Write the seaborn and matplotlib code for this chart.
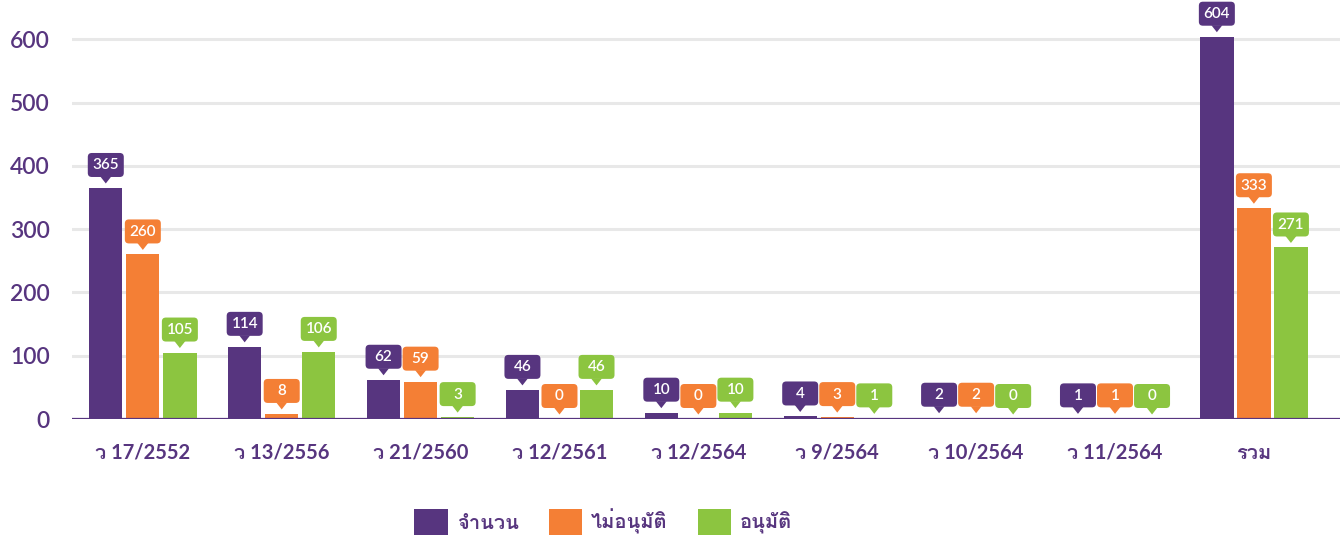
import pandas as pd
import seaborn as sns
import matplotlib.pyplot as plt
from matplotlib import font_manager
from matplotlib.ft2font import FT2Font
from matplotlib.patches import FancyBboxPatch, Polygon
from matplotlib.transforms import ScaledTranslation

categories = ['ว 17/2552', 'ว 13/2556', 'ว 21/2560', 'ว 12/2561', 'ว 12/2564',
              'ว 9/2564', 'ว 10/2564', 'ว 11/2564', 'รวม']
series = ['จำนวน', 'ไม่อนุมัติ', 'อนุมัติ']
total = [365, 114, 62, 46, 10, 4, 2, 1, 604]
rejected = [260, 8, 59, 0, 0, 3, 2, 1, 333]
approved = [105, 106, 3, 46, 10, 1, 0, 0, 271]
colors = ['#57357f', '#f47f35', '#8cc540']
yticks = [0, 100, 200, 300, 400, 500, 600]

# find an installed font that has Thai glyphs
thai = []
for f in font_manager.fontManager.ttflist:
    try:
        if 0x0E08 in FT2Font(f.fname).get_charmap() and f.name not in thai:
            thai.append(f.name)
    except Exception:
        pass
families = ['Lato'] + thai + ['DejaVu Sans']

rows = []
for name, vals in zip(series, [total, rejected, approved]):
    for c, v in zip(categories, vals):
        rows.append({'cat': c, 'series': name, 'val': v})
df = pd.DataFrame(rows)

sns.set_style('white')
plt.rcParams['font.family'] = families
purple = '#57357f'

fig = plt.figure(figsize=(13.44, 5.39), dpi=100)
ax = fig.add_axes([72 / 1344, 120 / 539, 1268 / 1344, 419 / 539])

sns.barplot(data=df, x='cat', y='val', hue='series', palette=colors,
            width=0.8, gap=0.1, saturation=1, linewidth=0, ax=ax)

ax.set_ylim(0, 662)
ax.set_xlim(-0.51, 8.62)
ax.set_yticks(yticks)
ax.set_xlabel('')
ax.set_ylabel('')
ax.grid(axis='y', color='#e8e8e8', linewidth=2.2)
ax.set_axisbelow(True)
for s in ax.spines.values():
    s.set_visible(False)
ax.axhline(0, color=purple, linewidth=1.6, zorder=3)
ax.tick_params(axis='both', length=0, colors=purple)
ax.tick_params(axis='x', pad=17, labelsize=14.5)
ax.tick_params(axis='y', pad=16, labelsize=16.5)
for lab in ax.get_xticklabels():
    lab.set_fontweight('bold')
for lab in ax.get_yticklabels():
    lab.set_fontweight('semibold')

# callout value labels
for cont, col in zip(ax.containers, colors):
    for bar in cont:
        x = bar.get_x() + bar.get_width() / 2
        v = bar.get_height()
        tr = fig.dpi_scale_trans + ScaledTranslation(x, v, ax.transData)
        ax.add_patch(FancyBboxPatch((-0.18, 0.11), 0.36, 0.24,
                                    boxstyle='round,pad=0,rounding_size=0.04',
                                    fc=col, ec='none', transform=tr,
                                    clip_on=False, zorder=5))
        ax.add_patch(Polygon([(-0.055, 0.115), (0.055, 0.115), (0, 0.045)],
                             closed=True, fc=col, ec='none', transform=tr,
                             clip_on=False, zorder=5))
        ax.text(0, 0.225, f'{int(v)}', transform=tr, ha='center', va='center',
                color='white', fontsize=11, fontweight='semibold', zorder=6)

handles, labels = ax.get_legend_handles_labels()
ax.get_legend().remove()
leg = fig.legend(handles, labels, loc='center', bbox_to_anchor=(0.449, 0.0315),
                 ncol=3, frameon=False, fontsize=14.5, handlelength=1.65,
                 handleheight=1.65, handletextpad=0.45, columnspacing=1.5)
for t in leg.get_texts():
    t.set_color(purple)
    t.set_fontweight('bold')

fig.savefig('out.png', dpi=100)
